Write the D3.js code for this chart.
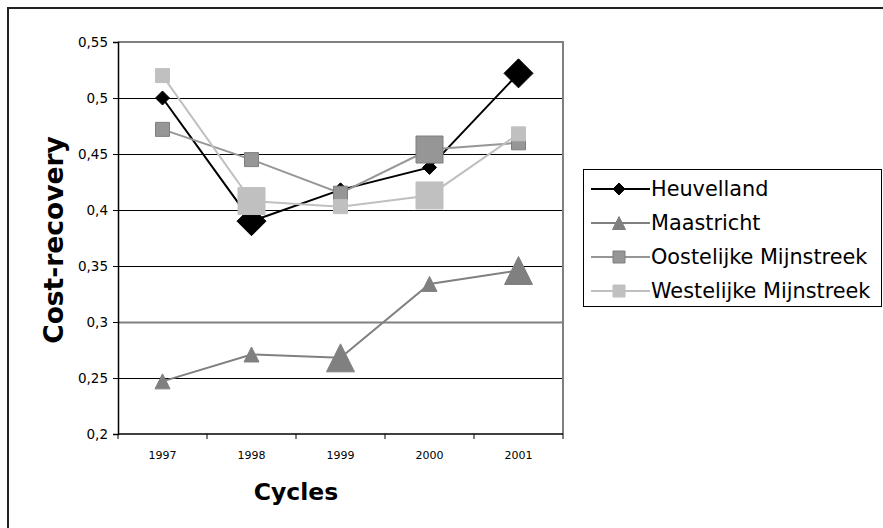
<!DOCTYPE html>
<html>
<head>
<meta charset="utf-8">
<script src="https://cdn.jsdelivr.net/npm/d3@7"></script>
<style>
  body { margin: 0; background: #fff; }
  svg text { font-family: "DejaVu Sans", Verdana, sans-serif; }
</style>
</head>
<body>
<div id="chart"></div>
<script>
// chart data
const years = ["1997", "1998", "1999", "2000", "2001"];
const seriesNames = ["Heuvelland", "Maastricht", "Oostelijke Mijnstreek", "Westelijke Mijnstreek"];
const heuvelland = [0.500, 0.390, 0.418, 0.438, 0.522];
const maastricht = [0.247, 0.271, 0.268, 0.334, 0.346];
const oostelijke = [0.472, 0.445, 0.415, 0.454, 0.460];
const westelijke = [0.520, 0.408, 0.403, 0.413, 0.468];
const yTicks = [0.2, 0.25, 0.3, 0.35, 0.4, 0.45, 0.5, 0.55];

const width = 883;
const height = 528;
const margin = {top: 42, left: 118, right: 320, bottom: 94};

// style per series (colour, marker shape, which points got the large marker)
const styles = [
  {color: "#000000", stroke: "#000000", shape: "diamond", big: ["1998", "2001"]},
  {color: "#808080", stroke: "#808080", shape: "triangle", big: ["1999", "2001"]},
  {color: "#969696", stroke: "#7f7f7f", shape: "square", big: ["2000"]},
  {color: "#c0c0c0", stroke: "#c0c0c0", shape: "square", big: ["1998", "2000"]}
];
const allValues = [heuvelland, maastricht, oostelijke, westelijke];

const series = seriesNames.map((name, i) => ({
  name,
  style: styles[i],
  values: years.map((y, j) => ({year: y, value: allValues[i][j]}))
}));

const svg = d3.select("#chart")
  .append("svg")
  .attr("width", width)
  .attr("height", height);

// outer frame
svg.append("rect")
  .attr("x", 8)
  .attr("y", 8)
  .attr("width", 920)
  .attr("height", 600)
  .attr("fill", "none")
  .attr("stroke", "#222")
  .attr("stroke-width", 2);

const x = d3.scaleBand()
  .domain(years)
  .range([margin.left, width - margin.right]);

const y = d3.scaleLinear()
  .domain([0.2, 0.55])
  .range([height - margin.bottom, margin.top]);

// gridlines
svg.append("g")
  .selectAll("line")
  .data(yTicks.filter(t => t > 0.2 && t < 0.55))
  .enter()
  .append("line")
  .attr("x1", margin.left)
  .attr("x2", width - margin.right)
  .attr("y1", d => Math.round(y(d)) + 0.5)
  .attr("y2", d => Math.round(y(d)) + 0.5)
  .attr("stroke", d => Math.abs(d - 0.3) < 1e-9 ? "#808080" : "#000")
  .attr("stroke-width", d => Math.abs(d - 0.3) < 1e-9 ? 2 : 1);

// plot area border top and right (grey)
svg.append("path")
  .attr("d", `M${margin.left},${y(0.55)}H${width - margin.right}V${y(0.2)}`)
  .attr("fill", "none")
  .attr("stroke", "#808080")
  .attr("stroke-width", 2);

// y axis
const yAxis = svg.append("g")
  .attr("transform", `translate(${margin.left},0)`)
  .call(d3.axisLeft(y).tickValues(yTicks).tickSize(5).tickPadding(5)
    .tickFormat(d => d3.format(".2~f")(d).replace(".", ",")));
yAxis.select(".domain").attr("stroke", "#000").attr("stroke-width", 1.5);
yAxis.selectAll("text").attr("font-size", 13.5).attr("fill", "#000")
  .attr("font-family", "DejaVu Sans");

// x axis with ticks at band edges
const xAxisG = svg.append("g")
  .attr("transform", `translate(0,${y(0.2)})`);
xAxisG.append("line")
  .attr("x1", margin.left)
  .attr("x2", width - margin.right)
  .attr("stroke", "#000")
  .attr("stroke-width", 1.5);
xAxisG.selectAll(".edge")
  .data(years.concat(["end"]))
  .enter()
  .append("line")
  .attr("x1", (d, i) => margin.left + i * x.bandwidth())
  .attr("x2", (d, i) => margin.left + i * x.bandwidth())
  .attr("y1", 0)
  .attr("y2", 5)
  .attr("stroke", "#000");
xAxisG.selectAll("text")
  .data(years)
  .enter()
  .append("text")
  .attr("x", d => x(d) + x.bandwidth() / 2)
  .attr("y", 25)
  .attr("text-anchor", "middle")
  .attr("font-size", 11)
  .text(d => d);

// axis titles
svg.append("text")
  .attr("x", 296)
  .attr("y", 500)
  .attr("text-anchor", "middle")
  .attr("font-weight", "bold")
  .attr("font-size", 23.5)
  .text("Cycles");

svg.append("text")
  .attr("transform", "rotate(-90)")
  .attr("x", -240)
  .attr("y", 63)
  .attr("text-anchor", "middle")
  .attr("font-weight", "bold")
  .attr("font-size", 26.5)
  .text("Cost-recovery");

// marker path generator
function markerPath(shape, r) {
  if (shape === "diamond") return `M0,${-r}L${r},0L0,${r}L${-r},0Z`;
  if (shape === "triangle") return `M0,${-r}L${r},${r}L${-r},${r}Z`;
  return `M${-r},${-r}H${r}V${r}H${-r}Z`;
}

const line = d3.line()
  .x(d => x(d.year) + x.bandwidth() / 2)
  .y(d => y(d.value));

series.forEach(s => {
  const g = svg.append("g");
  g.append("path")
    .datum(s.values)
    .attr("fill", "none")
    .attr("stroke", s.style.color)
    .attr("stroke-width", 2)
    .attr("d", line);
  g.selectAll("path.mark")
    .data(s.values)
    .enter()
    .append("path")
    .attr("class", "mark")
    .attr("transform", d => `translate(${x(d.year) + x.bandwidth() / 2},${y(d.value)})`)
    .attr("d", d => {
      const big = s.style.big.includes(d.year);
      let r = s.style.shape === "diamond" ? (big ? 14.5 : 7) :
              s.style.shape === "triangle" ? (big ? 14 : 7.5) : (big ? 13.5 : 7);
      return markerPath(s.style.shape, r);
    })
    .attr("fill", s.style.color)
    .attr("stroke", s.style.stroke)
    .attr("stroke-width", 1);
});

// legend
const legend = svg.append("g");
legend.append("rect")
  .attr("x", 583.5)
  .attr("y", 169.5)
  .attr("width", 298)
  .attr("height", 137)
  .attr("fill", "#fff")
  .attr("stroke", "#000")
  .attr("stroke-width", 1);

series.forEach((s, i) => {
  const ly = 189 + i * 34;
  legend.append("line")
    .attr("x1", 591)
    .attr("x2", 650)
    .attr("y1", ly)
    .attr("y2", ly)
    .attr("stroke", s.style.color)
    .attr("stroke-width", 2);
  legend.append("path")
    .attr("transform", `translate(619,${ly})`)
    .attr("d", markerPath(s.style.shape, s.style.shape === "triangle" ? 6.5 : 6))
    .attr("fill", s.style.color)
    .attr("stroke", s.style.stroke);
  legend.append("text")
    .attr("x", 651)
    .attr("y", ly)
    .attr("dy", "0.36em")
    .attr("font-size", 20.8)
    .text(s.name);
});
</script>
</body>
</html>
